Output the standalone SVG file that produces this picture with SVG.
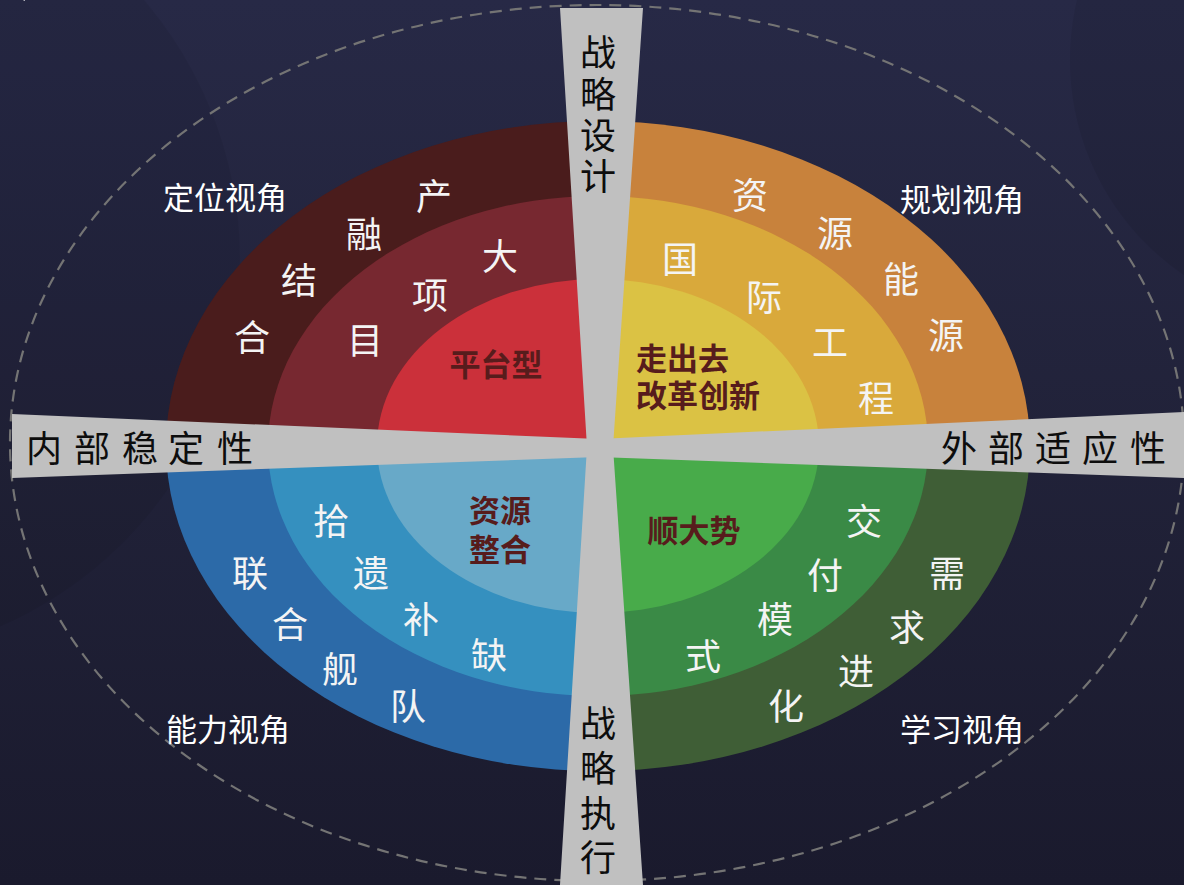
<svg xmlns="http://www.w3.org/2000/svg" width="1184" height="885" viewBox="0 0 1184 885">
  <defs>
    <linearGradient id="bg" x1="0" y1="0" x2="0" y2="1">
      <stop offset="0" stop-color="#272946"/>
      <stop offset="0.5" stop-color="#212239"/>
      <stop offset="1" stop-color="#1a1a2d"/>
    </linearGradient>
    <clipPath id="qTL"><rect x="0" y="0" width="598" height="446"/></clipPath>
    <clipPath id="qTR"><rect x="598" y="0" width="586" height="446"/></clipPath>
    <clipPath id="qBL"><rect x="0" y="446" width="598" height="439"/></clipPath>
    <clipPath id="qBR"><rect x="598" y="446" width="586" height="439"/></clipPath>
    <style>
      .ring { font-family: "Noto Sans CJK SC", "Noto Sans", sans-serif; font-size: 36px; fill: #f4f4f4; text-anchor: middle; dominant-baseline: central; }
      .view { font-family: "Noto Sans CJK SC", "Noto Sans", sans-serif; font-size: 31px; fill: #ffffff; text-anchor: middle; dominant-baseline: central; }
      .core { font-family: "Noto Sans CJK SC", "Noto Sans", sans-serif; font-size: 31px; font-weight: bold; fill: #571c1c; dominant-baseline: central; }
      .axis { font-family: "Noto Sans CJK SC", "Noto Sans", sans-serif; font-size: 36px; fill: #0d0d0d; text-anchor: middle; dominant-baseline: central; }
      .bar { fill: #c0c0c0; }
    </style>
  </defs>

  <g id="background">
    <rect x="0" y="0" width="1184" height="885" fill="url(#bg)"/>
    <circle cx="-160" cy="260" r="400" fill="#000000" opacity="0.06"/>
    <circle cx="1330" cy="60" r="260" fill="#000000" opacity="0.07"/>
    <text x="-26" y="-5" font-family="Noto Sans CJK SC, sans-serif" font-size="56" font-weight="bold" fill="#ffffff">模</text>
    <text x="63" y="-5" font-family="Noto Sans CJK SC, sans-serif" font-size="56" font-weight="bold" fill="#ffffff">型</text>
  </g>

  <g id="dashed-boundary">
    <ellipse cx="597" cy="443" rx="587" ry="438" fill="none" stroke="#747474" stroke-width="2.2" stroke-dasharray="12 8"/>
  </g>

  <g id="quadrant-positioning" clip-path="url(#qTL)">
    <ellipse cx="598" cy="446" rx="432" ry="325" fill="#4a1c1c"/>
    <ellipse cx="598" cy="446" rx="330" ry="250" fill="#772830"/>
    <ellipse cx="598" cy="446" rx="221" ry="167" fill="#cb303a"/>
  </g>
  <g id="quadrant-planning" clip-path="url(#qTR)">
    <ellipse cx="598" cy="446" rx="432" ry="325" fill="#c8823c"/>
    <ellipse cx="598" cy="446" rx="330" ry="250" fill="#d9a93b"/>
    <ellipse cx="598" cy="446" rx="221" ry="167" fill="#dbc244"/>
  </g>
  <g id="quadrant-capability" clip-path="url(#qBL)">
    <ellipse cx="598" cy="446" rx="432" ry="325" fill="#2c6aa8"/>
    <ellipse cx="598" cy="446" rx="330" ry="250" fill="#3590bf"/>
    <ellipse cx="598" cy="446" rx="221" ry="167" fill="#68a9c8"/>
  </g>
  <g id="quadrant-learning" clip-path="url(#qBR)">
    <ellipse cx="598" cy="446" rx="432" ry="325" fill="#3f5e36"/>
    <ellipse cx="598" cy="446" rx="330" ry="250" fill="#3a8a46"/>
    <ellipse cx="598" cy="446" rx="221" ry="167" fill="#48ab4a"/>
  </g>

  <g id="cross">
    <polygon class="bar" points="12,414 598,439 1184,412 1184,478 598,457 12,478"/>
    <polygon class="bar" points="560,8 643,8 613,447 643,885 560,885 587,447"/>
  </g>

  <g id="axis-labels">
    <g id="axis-top">
      <text class="axis" x="598" y="50">战</text>
      <text class="axis" x="598" y="92">略</text>
      <text class="axis" x="598" y="133">设</text>
      <text class="axis" x="598" y="174">计</text>
    </g>
    <g id="axis-bottom">
      <text class="axis" x="598" y="721">战</text>
      <text class="axis" x="598" y="766">略</text>
      <text class="axis" x="598" y="811">执</text>
      <text class="axis" x="598" y="855">行</text>
    </g>
    <g id="axis-left">
      <text class="axis" x="44" y="446">内</text>
      <text class="axis" x="92" y="446">部</text>
      <text class="axis" x="140" y="446">稳</text>
      <text class="axis" x="186" y="446">定</text>
      <text class="axis" x="235" y="446">性</text>
    </g>
    <g id="axis-right">
      <text class="axis" x="959" y="446">外</text>
      <text class="axis" x="1006" y="446">部</text>
      <text class="axis" x="1053" y="446">适</text>
      <text class="axis" x="1100" y="446">应</text>
      <text class="axis" x="1148" y="446">性</text>
    </g>
  </g>

  <g id="view-labels">
    <text class="view" x="225" y="195">定位视角</text>
    <text class="view" x="962" y="197">规划视角</text>
    <text class="view" x="228" y="727">能力视角</text>
    <text class="view" x="962" y="727">学习视角</text>
  </g>

  <g id="tl-labels">
    <text class="ring" x="434" y="194">产</text>
    <text class="ring" x="364" y="232">融</text>
    <text class="ring" x="299" y="278">结</text>
    <text class="ring" x="252" y="335">合</text>
    <text class="ring" x="500" y="254">大</text>
    <text class="ring" x="430" y="293">项</text>
    <text class="ring" x="365" y="338">目</text>
    <text class="core" x="496" y="362" text-anchor="middle">平台型</text>
  </g>

  <g id="tr-labels">
    <text class="ring" x="750" y="193">资</text>
    <text class="ring" x="835" y="231">源</text>
    <text class="ring" x="901" y="277">能</text>
    <text class="ring" x="946" y="333">源</text>
    <text class="ring" x="680" y="257">国</text>
    <text class="ring" x="764" y="295">际</text>
    <text class="ring" x="830" y="340">工</text>
    <text class="ring" x="876" y="396">程</text>
    <text class="core" x="636" y="356">走出去</text>
    <text class="core" x="636" y="393">改革创新</text>
  </g>

  <g id="bl-labels">
    <text class="ring" x="331" y="519">拾</text>
    <text class="ring" x="371" y="571">遗</text>
    <text class="ring" x="421" y="617">补</text>
    <text class="ring" x="489" y="653">缺</text>
    <text class="ring" x="250" y="571">联</text>
    <text class="ring" x="290" y="622">合</text>
    <text class="ring" x="340" y="667">舰</text>
    <text class="ring" x="408" y="704">队</text>
    <text class="core" x="500" y="508" text-anchor="middle">资源</text>
    <text class="core" x="500" y="547" text-anchor="middle">整合</text>
  </g>

  <g id="br-labels">
    <text class="ring" x="864" y="519">交</text>
    <text class="ring" x="825" y="573">付</text>
    <text class="ring" x="775" y="617">模</text>
    <text class="ring" x="703" y="654">式</text>
    <text class="ring" x="947" y="571">需</text>
    <text class="ring" x="907" y="625">求</text>
    <text class="ring" x="856" y="669">进</text>
    <text class="ring" x="786" y="704">化</text>
    <text class="core" x="694" y="528" text-anchor="middle">顺大势</text>
  </g>
</svg>
